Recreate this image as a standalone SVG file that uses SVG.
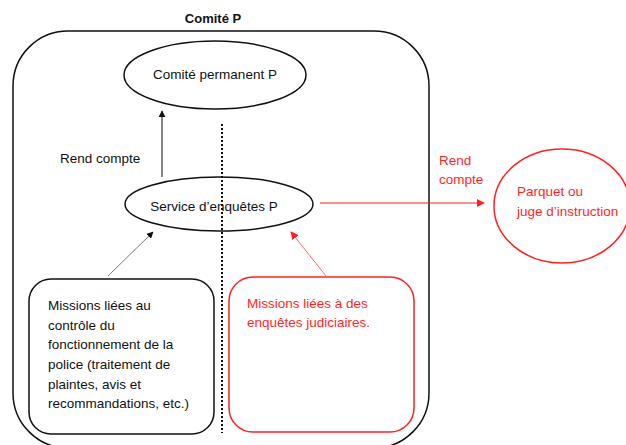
<svg xmlns="http://www.w3.org/2000/svg" width="626" height="445" viewBox="0 0 626 445">
<defs>
<style>
text{font-family:"Liberation Sans",Arial,sans-serif;font-size:13.5px;fill:#111}
.title{font-size:13px;font-weight:bold}
.red{fill:#ff1f1f}
.shape{fill:#fff;stroke:#111;stroke-width:1.5}
.rshape{fill:#fff;stroke:#ff2020;stroke-width:1.5}
</style>
<marker id="ab" viewBox="0 0 10 10" refX="9" refY="5" markerWidth="7" markerHeight="7" orient="auto" markerUnits="userSpaceOnUse"><path d="M0,0L10,5L0,10z" fill="#111"/></marker>
<marker id="ar" viewBox="0 0 10 10" refX="9" refY="5" markerWidth="8" markerHeight="8" orient="auto" markerUnits="userSpaceOnUse"><path d="M0,0L10,5L0,10z" fill="#ff1f1f"/></marker>
</defs>
<rect width="626" height="445" fill="#fff"/>
<g id="comite-p">
<rect x="13" y="31" width="416" height="417" rx="55" ry="55" fill="none" stroke="#111" stroke-width="1.5"/>
<text class="title" x="213" y="23" text-anchor="middle">Comité P</text>
</g>
<g id="divider">
<line x1="222" y1="124" x2="222" y2="433" stroke="#111" stroke-width="2" stroke-dasharray="2 2"/>
</g>
<g id="comite-permanent">
<ellipse class="shape" cx="215" cy="75" rx="91" ry="34"/>
<text x="215" y="79" text-anchor="middle">Comité permanent P</text>
</g>
<g id="service">
<ellipse class="shape" cx="219" cy="204" rx="94" ry="27" fill-opacity="0"/>
<text x="214" y="211" text-anchor="middle">Service d’enquêtes P</text>
</g>
<g id="parquet">
<ellipse class="rshape" cx="562" cy="206" rx="68" ry="57"/>
<text class="red" x="517" y="196">Parquet ou</text>
<text class="red" x="517" y="216">juge d’instruction</text>
</g>
<g id="missions-police">
<rect class="shape" x="29" y="279" width="185" height="155" rx="22"/>
<text x="48" y="310">Missions liées au</text>
<text x="48" y="330">contrôle du</text>
<text x="48" y="349">fonctionnement de la</text>
<text x="48" y="369">police (traitement de</text>
<text x="48" y="389">plaintes, avis et</text>
<text x="48" y="408">recommandations, etc.)</text>
</g>
<g id="missions-judiciaires">
<rect class="rshape" x="229" y="277" width="185" height="155" rx="24"/>
<text class="red" x="247" y="308">Missions liées à des</text>
<text class="red" x="247" y="327">enquêtes judiciaires.</text>
</g>
<g id="connectors">
<line x1="162" y1="177" x2="162" y2="111" stroke="#111" stroke-width="1" marker-end="url(#ab)"/>
<text x="60" y="163">Rend compte</text>
<line x1="108" y1="276" x2="153" y2="232" stroke="#555" stroke-width="0.8" marker-end="url(#ab)"/>
<line x1="326" y1="276" x2="291" y2="232" stroke="#ff4040" stroke-width="0.8" marker-end="url(#ar)"/>
<line x1="320" y1="203" x2="484" y2="203" stroke="#ff1f1f" stroke-width="1" marker-end="url(#ar)"/>
<text class="red" x="439" y="165">Rend</text>
<text class="red" x="439" y="184">compte</text>
</g>
</svg>
